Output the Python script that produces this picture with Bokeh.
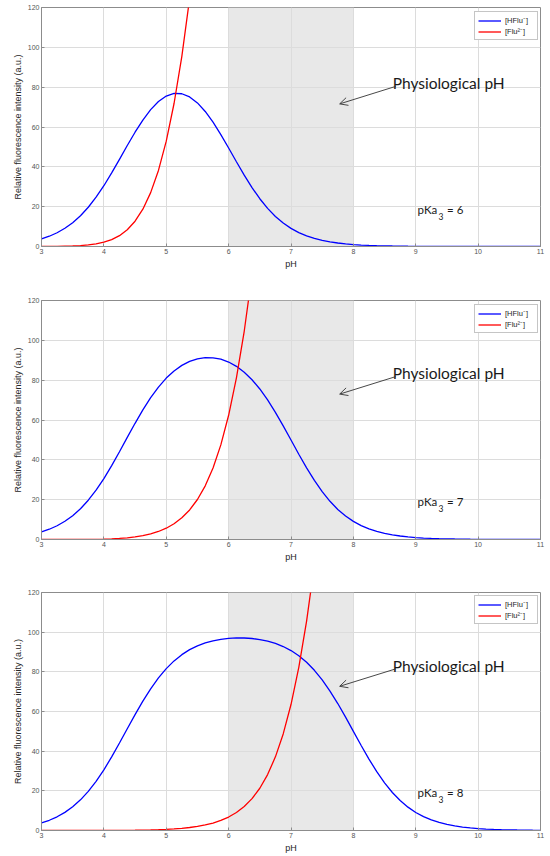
from bokeh.plotting import figure
from bokeh.layouts import column
from bokeh.models import (FixedTicker, Label, Arrow, OpenHead, Range1d,
                          Legend, LegendItem)
from bokeh.embed import file_html
from bokeh.resources import INLINE

# ---------------- data ----------------
ph = [3.0, 3.125, 3.25, 3.375, 3.5, 3.625, 3.75, 3.875,
      4.0, 4.125, 4.25, 4.375, 4.5, 4.625, 4.75, 4.875,
      5.0, 5.125, 5.25, 5.375, 5.5, 5.625, 5.75, 5.875,
      6.0, 6.125, 6.25, 6.375, 6.5, 6.625, 6.75, 6.875,
      7.0, 7.125, 7.25, 7.375, 7.5, 7.625, 7.75, 7.875,
      8.0, 8.125, 8.25, 8.375, 8.5, 8.625, 8.75, 8.875,
      9.0, 9.125, 9.25, 9.375, 9.5, 9.625, 9.75, 9.875,
      10.0, 10.125, 10.25, 10.375, 10.5, 10.625, 10.75, 10.875,
      11.0]

hflu_pka6 = [3.82, 5.16, 6.91, 9.14, 11.96, 15.45, 19.70, 24.74,
             30.52, 36.93, 43.75, 50.69, 57.38, 63.50, 68.72, 72.78,
             75.53, 76.84, 76.69, 75.10, 72.10, 67.81, 62.42, 56.19,
             49.45, 42.55, 35.83, 29.58, 23.99, 19.15, 15.09, 11.76,
             9.09, 6.97, 5.32, 4.05, 3.07, 2.32, 1.75, 1.32,
             0.99, 0.74, 0.56, 0.42, 0.32, 0.24, 0.18, 0.13,
             0.10, 0.075, 0.056, 0.042, 0.032, 0.024, 0.018, 0.013,
             0.010, 0.0075, 0.0056, 0.0042, 0.0032, 0.0024, 0.0018, 0.0013,
             0.0010]
hflu_pka7 = [3.82, 5.16, 6.91, 9.14, 11.96, 15.46, 19.72, 24.78,
             30.60, 37.09, 44.05, 51.25, 58.34, 65.07, 71.19, 76.54,
             81.04, 84.65, 87.43, 89.44, 90.71, 91.30, 91.24, 90.51,
             89.10, 86.94, 84.01, 80.22, 75.57, 70.08, 63.84, 57.05,
             49.95, 42.82, 35.98, 29.66, 24.02, 19.17, 15.10, 11.77,
             9.09, 6.98, 5.32, 4.05, 3.07, 2.32, 1.75, 1.32,
             0.99, 0.74, 0.56, 0.42, 0.32, 0.24, 0.18, 0.13,
             0.10, 0.075, 0.056, 0.042, 0.032, 0.024, 0.018, 0.013,
             0.010]
hflu_pka8 = [3.82, 5.16, 6.91, 9.14, 11.96, 15.46, 19.72, 24.78,
             30.61, 37.10, 44.09, 51.30, 58.43, 65.24, 71.45, 76.93,
             81.63, 85.52, 88.67, 91.18, 93.11, 94.58, 95.66, 96.39,
             96.86, 97.08, 97.05, 96.80, 96.27, 95.47, 94.32, 92.76,
             90.73, 88.10, 84.81, 80.78, 75.94, 70.29, 64.01, 57.15,
             50.00, 42.85, 36.00, 29.66, 24.03, 19.17, 15.10, 11.77,
             9.09, 6.98, 5.32, 4.05, 3.07, 2.32, 1.75, 1.32,
             0.99, 0.74, 0.56, 0.42, 0.32, 0.24, 0.18, 0.13,
             0.10]

flu_ph_pka6 = [3.0, 3.25, 3.5, 3.625, 3.75, 3.875, 4.0, 4.125, 4.25, 4.375,
               4.5, 4.625, 4.75, 4.875, 5.0, 5.125, 5.25, 5.375]
flu_pka6 = [0.03, 0.09, 0.27, 0.46, 0.78, 1.30, 2.14, 3.45, 5.44, 8.41,
            12.70, 18.74, 27.05, 38.20, 52.87, 71.80, 95.50, 124.60]

flu_ph_pka7 = [3.0, 3.5, 4.0, 4.125, 4.25, 4.375, 4.5, 4.625, 4.75, 4.875,
               5.0, 5.125, 5.25, 5.375, 5.5, 5.625, 5.75, 5.875, 6.0, 6.125,
               6.25, 6.375]
flu_pka7 = [0.003, 0.027, 0.21, 0.35, 0.55, 0.85, 1.29, 1.92, 2.80, 4.02,
            5.67, 7.90, 10.88, 14.85, 20.08, 26.95, 35.91, 47.51, 62.37, 81.19,
            104.55, 133.15]

flu_ph_pka8 = [3.0, 4.0, 4.25, 4.5, 4.625, 4.75, 4.875, 5.0, 5.125, 5.25,
               5.375, 5.5, 5.625, 5.75, 5.875, 6.0, 6.125, 6.25, 6.375, 6.5,
               6.625, 6.75, 6.875, 7.0, 7.125, 7.25, 7.375]
flu_pka8 = [0.0003, 0.02, 0.05, 0.13, 0.19, 0.28, 0.40, 0.57, 0.80, 1.10,
            1.51, 2.06, 2.79, 3.77, 5.06, 6.78, 9.07, 12.08, 16.07, 21.31,
            28.18, 37.13, 48.69, 63.51, 82.27, 105.56, 134.06]

pka_labels = ["6", "7", "8"]
physio_range = [6, 8]
x_ticks = [3, 4, 5, 6, 7, 8, 9, 10, 11]
y_ticks = [0, 20, 40, 60, 80, 100, 120]
series_names = ["[HFlu\u207b]", "[Flu\u00b2\u207b]"]

# ---------------- styling ----------------
AX = "#8c8c8c"
TICKC = "#555555"
LABC = "#262626"
FONT = "Liberation Sans"
ANN_FONT = "Lato"
FRAME_H = 239

panels = [
    dict(blue=hflu_pka6, rx=flu_ph_pka6, ry=flu_pka6, pka=pka_labels[0],
         top=7, bb=49, dy=0.0),
    dict(blue=hflu_pka7, rx=flu_ph_pka7, ry=flu_pka7, pka=pka_labels[1],
         top=5, bb=48, dy=1.4),
    dict(blue=hflu_pka8, rx=flu_ph_pka8, ry=flu_pka8, pka=pka_labels[2],
         top=5, bb=24, dy=1.1),
]

figs = []
for cfg in panels:
    p = figure(width=550, height=cfg["top"] + FRAME_H + cfg["bb"],
               x_range=Range1d(x_ticks[0], x_ticks[-1]),
               y_range=Range1d(y_ticks[0], y_ticks[-1]),
               output_backend="svg", toolbar_location=None,
               min_border_left=41, min_border_right=10,
               min_border_top=cfg["top"], min_border_bottom=cfg["bb"])
    p.outline_line_color = AX
    p.background_fill_color = "white"
    p.border_fill_color = "white"

    # shaded physiological range (drawn below the grid)
    p.quad(left=[physio_range[0]], right=[physio_range[1]],
           bottom=[y_ticks[0]], top=[y_ticks[-1]],
           fill_color="#e8e8e8", line_color=None, level="image")

    # grid
    p.xgrid.ticker = FixedTicker(ticks=x_ticks)
    p.ygrid.ticker = FixedTicker(ticks=y_ticks)
    p.grid.grid_line_color = "#dcdcdc"
    p.grid.grid_line_width = 1

    # axes
    p.xaxis.ticker = FixedTicker(ticks=x_ticks)
    p.yaxis.ticker = FixedTicker(ticks=y_ticks)
    for ax in (p.xaxis, p.yaxis):
        ax.axis_line_color = AX
        ax.major_tick_line_color = AX
        ax.major_tick_in = 3
        ax.major_tick_out = 0
        ax.minor_tick_in = 0
        ax.minor_tick_out = 0
        ax.major_label_text_font = FONT
        ax.major_label_text_font_size = "7px"
        ax.major_label_text_color = TICKC
        ax.major_label_standoff = 2
        ax.axis_label_text_font = FONT
        ax.axis_label_text_font_size = "9px"
        ax.axis_label_text_font_style = "normal"
        ax.axis_label_text_color = LABC
        ax.axis_label_standoff = 2
    p.xaxis.axis_label = "pH"
    p.yaxis.axis_label = "Relative fluorescence intensity (a.u.)"

    # curves
    r1 = p.line(ph, cfg["blue"], line_color="#0000ff", line_width=1.3)
    r2 = p.line(cfg["rx"], cfg["ry"], line_color="#ff0000", line_width=1.3)

    legend = Legend(items=[LegendItem(label=series_names[0], renderers=[r1]),
                           LegendItem(label=series_names[1], renderers=[r2])],
                    location=(433, FRAME_H - 33),
                    label_text_font=FONT, label_text_font_size="7.5px",
                    label_text_color=LABC,
                    glyph_width=23, glyph_height=9, label_height=9,
                    label_width=29,
                    label_standoff=4, spacing=1, padding=3, margin=0,
                    border_line_color=AX, border_line_width=1,
                    background_fill_color="white", background_fill_alpha=1)
    p.add_layout(legend)

    dy = cfg["dy"]
    p.add_layout(Label(x=8.63, y=82.0 + dy, text="Physiological pH",
                       text_font=ANN_FONT, text_font_size="15.5px",
                       text_color="#1a1a1a", text_baseline="alphabetic"))
    p.add_layout(Arrow(end=OpenHead(size=8, line_width=0.9,
                                    line_color="#333333"),
                       x_start=8.68, y_start=80.4 + dy,
                       x_end=7.78, y_end=71.6 + dy,
                       line_width=0.9, line_color="#333333"))

    base_y = 18.4 + dy / 2
    p.add_layout(Label(x=9.03, y=base_y, text="pKa",
                       text_font=ANN_FONT, text_font_size="11.5px",
                       text_color="#1a1a1a", text_baseline="alphabetic"))
    p.add_layout(Label(x=9.03, y=base_y, x_offset=21, y_offset=-7,
                       text="3", text_font=ANN_FONT, text_font_size="8.5px",
                       text_color="#1a1a1a", text_baseline="alphabetic"))
    p.add_layout(Label(x=9.03, y=base_y, x_offset=29.5,
                       text="= " + cfg["pka"], text_font=ANN_FONT,
                       text_font_size="11.5px", text_color="#1a1a1a",
                       text_baseline="alphabetic"))
    figs.append(p)

layout = column(*figs, spacing=0)
open("out.html", "w").write(file_html(layout, INLINE))
